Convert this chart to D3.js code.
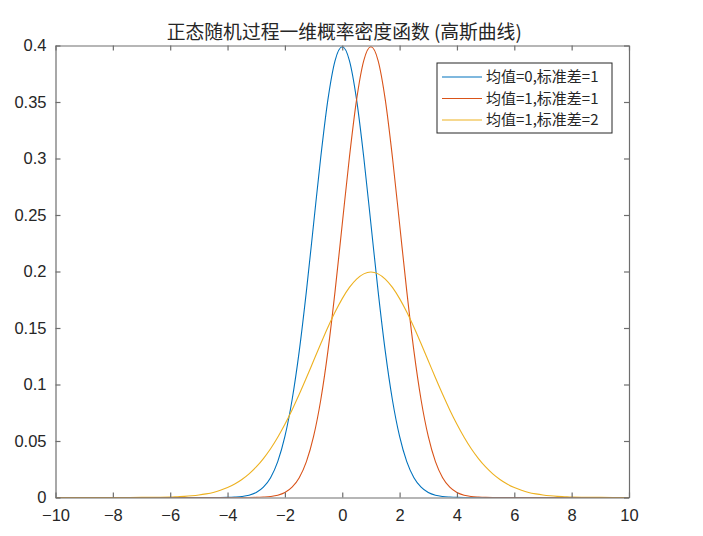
<!DOCTYPE html>
<html lang="zh">
<head>
<meta charset="UTF-8">
<title>正态随机过程一维概率密度函数</title>
<script src="https://d3js.org/d3.v7.min.js"></script>
<style>
  body { margin: 0; background: #fff; }
  text { fill: #262626; }
</style>
</head>
<body>
<div id="chart"></div>
<script>
// x grid (denser near the peaks)
const xs = [-10, -9, -8, -7,
  -6, -5.75, -5.5, -5.25, -5, -4.75, -4.5, -4.25, -4, -3.75, -3.5, -3.25,
  -3, -2.75, -2.5, -2.25, -2, -1.75, -1.5, -1.25, -1, -0.75, -0.5, -0.25,
  0, 0.25, 0.5, 0.75, 1, 1.25, 1.5, 1.75, 2, 2.25, 2.5, 2.75,
  3, 3.25, 3.5, 3.75, 4, 4.25, 4.5, 4.75, 5, 5.25, 5.5, 5.75,
  6, 6.25, 6.5, 6.75, 7, 7.25, 7.5, 7.75, 8,
  9, 10];

// 均值=0, 标准差=1
const pdfA = [0, 0, 0, 0,
  0, 0, 0, 0, 0, 0, 0, 0, 0.0001, 0.0004, 0.0009, 0.0020,
  0.0044, 0.0091, 0.0175, 0.0317, 0.0540, 0.0863, 0.1295, 0.1826, 0.2420, 0.3011, 0.3521, 0.3867,
  0.3989, 0.3867, 0.3521, 0.3011, 0.2420, 0.1826, 0.1295, 0.0863, 0.0540, 0.0317, 0.0175, 0.0091,
  0.0044, 0.0020, 0.0009, 0.0004, 0.0001, 0, 0, 0, 0, 0, 0, 0,
  0, 0, 0, 0, 0, 0, 0, 0, 0,
  0, 0];

// 均值=1, 标准差=1
const pdfB = [0, 0, 0, 0,
  0, 0, 0, 0, 0, 0, 0, 0, 0, 0, 0, 0,
  0.0001, 0.0004, 0.0009, 0.0020, 0.0044, 0.0091, 0.0175, 0.0317, 0.0540, 0.0863, 0.1295, 0.1826,
  0.2420, 0.3011, 0.3521, 0.3867, 0.3989, 0.3867, 0.3521, 0.3011, 0.2420, 0.1826, 0.1295, 0.0863,
  0.0540, 0.0317, 0.0175, 0.0091, 0.0044, 0.0020, 0.0009, 0.0004, 0.0001, 0, 0, 0,
  0, 0, 0, 0, 0, 0, 0, 0, 0,
  0, 0];

// 均值=1, 标准差=2
const pdfC = [0, 0, 0, 0.0001,
  0.0004, 0.0007, 0.0010, 0.0015, 0.0022, 0.0032, 0.0045, 0.0064, 0.0088, 0.0119, 0.0159, 0.0209,
  0.0270, 0.0344, 0.0431, 0.0533, 0.0648, 0.0775, 0.0913, 0.1059, 0.1210, 0.1360, 0.1506, 0.1641,
  0.1760, 0.1859, 0.1933, 0.1979, 0.1995, 0.1979, 0.1933, 0.1859, 0.1760, 0.1641, 0.1506, 0.1360,
  0.1210, 0.1059, 0.0913, 0.0775, 0.0648, 0.0533, 0.0431, 0.0344, 0.0270, 0.0209, 0.0159, 0.0119,
  0.0088, 0.0064, 0.0045, 0.0032, 0.0022, 0.0015, 0.0010, 0.0007, 0.0004,
  0.0001, 0];

const seriesNames = ["均值=0,标准差=1", "均值=1,标准差=1", "均值=1,标准差=2"];
const seriesColors = ["#0072BD", "#D95319", "#EDB120"];
const xTicks = [-10, -8, -6, -4, -2, 0, 2, 4, 6, 8, 10];
const yTicks = [0, 0.05, 0.1, 0.15, 0.2, 0.25, 0.3, 0.35, 0.4];
const title = "正态随机过程一维概率密度函数 (高斯曲线)";

const width = 703, height = 536;
const margin = {top: 45.5, right: 74, bottom: 38.5, left: 55.5};
const innerW = width - margin.left - margin.right;
const innerH = height - margin.top - margin.bottom;

const svg = d3.select("#chart").append("svg")
    .attr("width", width)
    .attr("height", height);

const g = svg.append("g")
    .attr("transform", `translate(${margin.left},${margin.top})`);

const x = d3.scaleLinear().domain([-10, 10]).range([0, innerW]);
const y = d3.scaleLinear().domain([0, 0.4]).range([innerH, 0]);

g.append("clipPath").attr("id", "clip")
  .append("rect").attr("width", innerW).attr("height", innerH + 1).attr("y", -1);

// curves
const series = [pdfA, pdfB, pdfC];
const line = d3.line()
    .x(d => x(d[0]))
    .y(d => y(d[1]))
    .curve(d3.curveMonotoneX);

series.forEach((vals, i) => {
  g.append("path")
    .datum(xs.map((v, j) => [v, vals[j]]))
    .attr("clip-path", "url(#clip)")
    .attr("fill", "none")
    .attr("stroke", seriesColors[i])
    .attr("stroke-width", 1.1)
    .attr("d", line);
});

// axes (MATLAB-like: ticks inside, box on)
const axisColor = "#6e6e6e";
const tickFont = "Liberation Sans, Arial, sans-serif";

const xAxis = g.append("g").attr("transform", `translate(0,${innerH})`)
    .call(d3.axisBottom(x).tickValues(xTicks).tickSizeInner(-5).tickSizeOuter(0).tickPadding(12));
const xTop = g.append("g")
    .call(d3.axisTop(x).tickValues(xTicks).tickSizeInner(-5).tickSizeOuter(0).tickFormat(""));
const yAxis = g.append("g")
    .call(d3.axisLeft(y).tickValues(yTicks).tickSizeInner(-5).tickSizeOuter(0).tickPadding(9)
      .tickFormat(d => d3.format("~g")(d)));
const yRight = g.append("g").attr("transform", `translate(${innerW},0)`)
    .call(d3.axisRight(y).tickValues(yTicks).tickSizeInner(-5).tickSizeOuter(0).tickFormat(""));

[xAxis, xTop, yAxis, yRight].forEach(a => {
  a.selectAll(".domain").attr("stroke", axisColor).attr("stroke-width", 1.2);
  a.selectAll(".tick line").attr("stroke", axisColor).attr("stroke-width", 1.2);
  a.selectAll(".tick text")
    .style("font-family", tickFont)
    .style("font-size", "16.5px")
    .attr("fill", "#262626");
});

// title
svg.append("text")
    .attr("x", margin.left + innerW / 2 + 2)
    .attr("y", 39)
    .attr("text-anchor", "middle")
    .style("font-family", "'Noto Sans CJK SC', sans-serif")
    .style("font-size", "18.8px")
    .text(title);

// legend
const lg = svg.append("g").attr("transform", "translate(437,63)");
lg.append("rect")
    .attr("width", 175).attr("height", 70)
    .attr("fill", "#fff")
    .attr("stroke", "#262626")
    .attr("stroke-width", 1);

seriesNames.forEach((name, i) => {
  const cy = 14 + i * 21.5;
  lg.append("line")
    .attr("x1", 5).attr("x2", 45)
    .attr("y1", cy).attr("y2", cy)
    .attr("stroke", seriesColors[i])
    .attr("stroke-width", 1.1);
  lg.append("text")
    .attr("x", 49).attr("y", cy)
    .attr("dy", "0.36em")
    .style("font-family", "'Noto Sans CJK SC', sans-serif")
    .style("font-size", "15px")
    .text(name);
});
</script>
</body>
</html>
